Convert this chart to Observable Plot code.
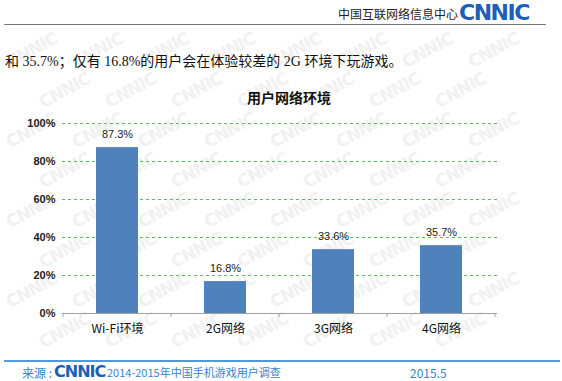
<!DOCTYPE html>
<html><head><meta charset="utf-8">
<script src="https://cdn.jsdelivr.net/npm/d3@7"></script>
<script src="https://cdn.jsdelivr.net/npm/@observablehq/plot@0.6"></script>
<style>
body{margin:0;width:562px;height:381px;overflow:hidden;background:#fff;position:relative;font-family:"Noto Sans CJK SC","Noto Sans",sans-serif;}
.abs{position:absolute;white-space:nowrap;}
#wm{position:absolute;left:0;top:0;width:562px;height:381px;overflow:hidden;z-index:0;}
#wm span{position:absolute;font-family:"DejaVu Sans",sans-serif;font-weight:bold;font-size:17px;line-height:20px;color:#f1f1f1;transform:rotate(-28deg);letter-spacing:-1px;}
.logo{font-family:"DejaVu Sans",sans-serif;font-weight:bold;color:#1d5fb8;letter-spacing:-1.5px;z-index:2;}
#hdr{right:104px;top:5px;font-size:12px;line-height:18px;color:#222;}
#logo1{left:459px;top:0px;font-size:22px;line-height:26px;}
#hline{left:4px;top:24px;width:542px;height:1px;background:#777;}
#bodytxt{left:5px;top:52px;font-size:14px;line-height:20px;color:#111;font-family:"Liberation Serif","Noto Sans CJK SC",serif;}
#title{left:0;width:578px;text-align:center;top:88px;font-size:14px;line-height:18px;font-weight:bold;color:#111;}
#chart{position:absolute;left:0;top:110px;z-index:1;}
#fline{left:4px;top:360px;width:556px;height:2px;background:#4f9ad8;}
.ft{color:#3b82c9;font-size:11px;line-height:13px;top:366px;z-index:2;}
#src{left:22px;font-size:12px;}
#logo2{left:54px;top:363px;font-size:16px;line-height:17px;letter-spacing:-1px;}
#srcname{left:107px;}
#date{left:410px;font-size:12px;}
</style></head><body>
<div id="wm"></div>
<div class="abs" id="hdr">中国互联网络信息中心</div>
<div class="abs logo" id="logo1">CNNIC</div>
<div class="abs" id="hline"></div>
<div class="abs" id="bodytxt">和 35.7%；仅有 16.8%的用户会在体验较差的 2G 环境下玩游戏。</div>
<div class="abs" id="title">用户网络环境</div>
<div id="chart"></div>
<div class="abs" id="fline"></div>
<div class="abs ft" id="src">来源 :</div>
<div class="abs logo" id="logo2">CNNIC</div>
<div class="abs ft" id="srcname">2014-2015年中国手机游戏用户调查</div>
<div class="abs ft" id="date">2015.5</div>
<script>
const categories = ["Wi-Fi环境", "2G网络", "3G网络", "4G网络"];
const values = [87.3, 16.8, 33.6, 35.7];
const yTicks = [0, 20, 40, 60, 80, 100];

// faint watermark pattern, kept fully inside the page
const wm = document.getElementById("wm");
for (let r = 0; r < 9; r++) {
  for (let c = 0; c < 9; c++) {
    const left = c * 66 + (r % 2) * 33 + 4;
    const top = r * 40 + 40;
    if (left > 490 || top > 330) continue;
    const s = document.createElement("span");
    s.textContent = "CNNIC";
    s.style.left = left + "px";
    s.style.top = top + "px";
    wm.appendChild(s);
  }
}

const data = categories.map((k, i) => ({k, v: values[i]}));

const plot = Plot.plot({
  width: 562,
  height: 230,
  marginTop: 13,
  marginBottom: 27,
  marginLeft: 62,
  marginRight: 65,
  style: {background: "transparent", fontFamily: "'Noto Sans CJK SC', sans-serif"},
  x: {domain: categories, paddingInner: 0.61, paddingOuter: 0.305, label: null},
  y: {domain: [0, 100], label: null},
  marks: [
    Plot.ruleY(yTicks.filter(d => d > 0), {stroke: "#5cbf5c", strokeWidth: 1, strokeDasharray: "3,3"}),
    Plot.barY(data, {x: "k", y: "v", fill: "#4f81bd"}),
    Plot.ruleY([0], {stroke: "#a0a0a0", strokeWidth: 1}),
    Plot.text(data, {x: "k", y: "v", text: d => d.v.toFixed(1) + "%", dy: -13, fontSize: 11, fill: "#222", fontFamily: "Liberation Sans, sans-serif"}),
    Plot.axisY({ticks: yTicks, tickFormat: d => d + "%", tickSize: 0, tickPadding: 7, fontSize: 11, fontWeight: "bold", fill: "#222", fontFamily: "Liberation Sans, sans-serif"}),
    Plot.axisX({tickSize: 0, tickPadding: 11, fontSize: 12, fill: "#111"})
  ]
});
document.getElementById("chart").appendChild(plot);

// category boundary ticks below the axis, positioned with Plot's x scale
const xs = plot.scale("x"), ys = plot.scale("y");
const step = xs.step;
const y0 = ys.apply(0);
const bounds = categories.map(c => xs.apply(c) - (step - xs.bandwidth) / 2).concat([xs.apply(categories[categories.length - 1]) + xs.bandwidth + (step - xs.bandwidth) / 2]);
d3.select(plot).append("g").selectAll("line").data(bounds).join("line")
  .attr("x1", d => d).attr("x2", d => d).attr("y1", y0).attr("y2", y0 + 4)
  .attr("stroke", "#a0a0a0");
</script>
</body></html>
